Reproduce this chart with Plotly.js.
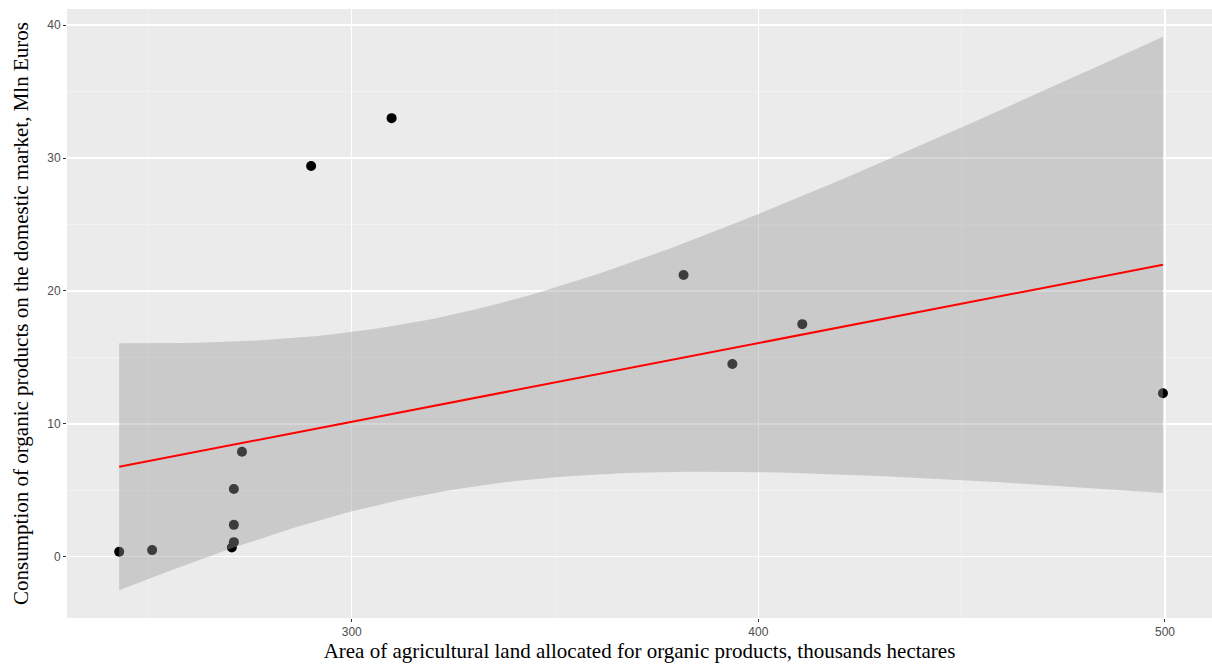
<!DOCTYPE html>
<html>
<head>
<meta charset="utf-8">
<script src="https://cdn.plot.ly/plotly-3.0.1.min.js"></script>
<style>html,body{margin:0;padding:0;background:#fff;}#chart{width:1212px;height:666px;}</style>
</head>
<body>
<div id="chart"></div>
<script>
// Area of agricultural land (thousand ha) and consumption (Mln Euros)
const area = [242.8, 250.9, 270.5, 271.0, 271.0, 271.0, 273.0, 290.0, 309.8, 381.6, 393.6, 410.8, 499.5];
const consumption = [0.38, 0.5, 0.7, 1.1, 2.4, 5.1, 7.9, 29.4, 33.0, 21.2, 14.5, 17.5, 12.3];
const xTicks = [300, 400, 500];
const yTicks = [0, 10, 20, 30, 40];

// Linear regression with 95% confidence band (like ggplot geom_smooth(method="lm"))
const n = area.length;
const mx = area.reduce((a, b) => a + b, 0) / n;
const my = consumption.reduce((a, b) => a + b, 0) / n;
let sxx = 0, sxy = 0;
for (let i = 0; i < n; i++) { sxx += (area[i] - mx) ** 2; sxy += (area[i] - mx) * (consumption[i] - my); }
const slope = sxy / sxx, intercept = my - slope * mx;
let sse = 0;
for (let i = 0; i < n; i++) { sse += (consumption[i] - (intercept + slope * area[i])) ** 2; }
const s = Math.sqrt(sse / (n - 2));
const tcrit = 2.200985; // t(0.975, 11)
const xmin = Math.min(...area), xmax = Math.max(...area);
const fx = [], fy = [], lo = [], hi = [];
for (let k = 0; k < 80; k++) {
  const x = xmin + (xmax - xmin) * k / 79;
  const y = intercept + slope * x;
  const se = s * Math.sqrt(1 / n + (x - mx) ** 2 / sxx);
  fx.push(x); fy.push(y); lo.push(y - tcrit * se); hi.push(y + tcrit * se);
}
const allY = consumption.concat(lo, hi);
const ymin = Math.min(...allY), ymax = Math.max(...allY);
const ypad = (ymax - ymin) * 0.05, xpad = (xmax - xmin) * 0.05;

const traces = [
  { x: area, y: consumption, mode: 'markers', type: 'scatter',
    marker: { color: '#000000', size: 10 }, hoverinfo: 'x+y' },
  { x: fx.concat(fx.slice().reverse()), y: hi.concat(lo.slice().reverse()),
    type: 'scatter', mode: 'lines', fill: 'toself', fillcolor: 'rgba(153,153,153,0.4)',
    line: { width: 0 }, hoverinfo: 'skip' },
  { x: fx, y: fy, type: 'scatter', mode: 'lines', line: { color: '#FF0000', width: 2 } }
];

const axisCommon = {
  showline: false, zeroline: false, ticks: 'outside', ticklen: 3, tickwidth: 1,
  tickcolor: '#333333', gridcolor: '#FFFFFF', gridwidth: 1.4,
  tickfont: { family: 'Liberation Sans, Arial, sans-serif', size: 12, color: '#4D4D4D' }
};

const titleFont = { family: 'Liberation Serif, Times New Roman, serif', size: 21, color: '#000000' };

const layout = {
  width: 1212, height: 666,
  margin: { l: 67, r: 0, t: 9, b: 48 },
  paper_bgcolor: '#FFFFFF', plot_bgcolor: '#EBEBEB',
  showlegend: false,
  xaxis: Object.assign({}, axisCommon, {
    range: [xmin - xpad, xmax + xpad * 0.94], tickvals: xTicks, ticktext: xTicks.map(String),
    minor: { dtick: 50, tick0: 0, gridcolor: '#F5F5F5', gridwidth: 0.7, ticks: '' },
    title: { text: 'Area of agricultural land allocated for organic products, thousands hectares',
      font: titleFont, standoff: 2 }
  }),
  yaxis: Object.assign({}, axisCommon, {
    range: [ymin - ypad, ymax + ypad], tickvals: yTicks, ticktext: yTicks.map(String),
    minor: { dtick: 5, tick0: 0, gridcolor: '#F5F5F5', gridwidth: 0.7, ticks: '' },
    title: { text: 'Consumption of organic products on the domestic market, Mln Euros',
      font: titleFont, standoff: 12 }
  })
};

Plotly.newPlot('chart', traces, layout, { displayModeBar: false, staticPlot: true });
</script>
</body>
</html>
